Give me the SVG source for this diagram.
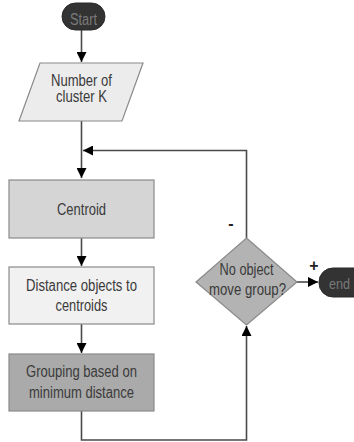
<svg xmlns="http://www.w3.org/2000/svg" width="354" height="442" viewBox="0 0 354 442">
<style>
text{font-family:"Liberation Sans",Arial,sans-serif;font-size:16px;fill:#3a3a3a;text-anchor:middle}
.box{stroke:#8a8a8a;stroke-width:1.2}
.term{fill:#333333;stroke:#2a2a2a;stroke-width:1}
.term-t{fill:#7a7a7a}
.line{fill:none;stroke:#4a4a4a;stroke-width:1.6}
.sign{font-size:16px;fill:#222;font-weight:bold}
</style>
<defs>
<marker id="ah" viewBox="0 0 10 10" refX="10" refY="5" markerWidth="10" markerHeight="10" markerUnits="userSpaceOnUse" orient="auto">
<path d="M0,0 L10,5 L0,10 z" fill="#000"/>
</marker>
</defs>
<g id="connectors">
<line class="line" x1="81.5" y1="30" x2="81.5" y2="62" marker-end="url(#ah)"/>
<line class="line" x1="81.5" y1="121" x2="81.5" y2="178" marker-end="url(#ah)"/>
<polyline class="line" points="246.5,238 246.5,150.5 83,150.5" marker-end="url(#ah)"/>
<line class="line" x1="81.5" y1="238" x2="81.5" y2="266" marker-end="url(#ah)"/>
<line class="line" x1="81.5" y1="324" x2="81.5" y2="353" marker-end="url(#ah)"/>
<polyline class="line" points="81.5,411 81.5,440 246.5,440 246.5,326" marker-end="url(#ah)"/>
<line class="line" x1="297" y1="282" x2="318" y2="282" marker-end="url(#ah)"/>
<text class="sign" x="231" y="229">-</text>
<text class="sign" x="314" y="271">+</text>
</g>
<g id="start">
<rect class="term" x="62" y="3" width="43" height="27" rx="13.5"/>
<text class="term-t" x="83.5" y="25" textLength="27" lengthAdjust="spacingAndGlyphs">Start</text>
</g>
<g id="input">
<polygon class="box" points="40,63 143,63 122,121 19,121" fill="#ececec"/>
<text x="81.5" y="86" textLength="61" lengthAdjust="spacingAndGlyphs">Number of</text>
<text x="81.5" y="102" textLength="51" lengthAdjust="spacingAndGlyphs">cluster K</text>
</g>
<g id="centroid">
<rect class="box" x="9" y="180" width="145" height="58" fill="#d5d5d5"/>
<text x="81.5" y="215" textLength="49" lengthAdjust="spacingAndGlyphs">Centroid</text>
</g>
<g id="distance">
<rect class="box" x="9" y="267" width="145" height="57" fill="#f1f1f1"/>
<text x="81.5" y="291" textLength="111" lengthAdjust="spacingAndGlyphs">Distance objects to</text>
<text x="81.5" y="311" textLength="52" lengthAdjust="spacingAndGlyphs">centroids</text>
</g>
<g id="grouping">
<rect class="box" x="9" y="354" width="145" height="57" fill="#aaaaaa"/>
<text x="81.5" y="377" textLength="111" lengthAdjust="spacingAndGlyphs">Grouping based on</text>
<text x="81.5" y="398" textLength="105" lengthAdjust="spacingAndGlyphs">minimum distance</text>
</g>
<g id="decision">
<polygon class="box" points="246.5,238 297,282 246.5,325 196,282" fill="#b3b3b3"/>
<text x="246.5" y="275" textLength="54" lengthAdjust="spacingAndGlyphs">No object</text>
<text x="247.5" y="295" textLength="77" lengthAdjust="spacingAndGlyphs">move group?</text>
</g>
<g id="end">
<rect class="term" x="319" y="268" width="50" height="29" rx="14"/>
<text class="term-t" x="329" y="289" style="text-anchor:start;font-size:15px" textLength="21" lengthAdjust="spacingAndGlyphs">end</text>
</g>
</svg>
